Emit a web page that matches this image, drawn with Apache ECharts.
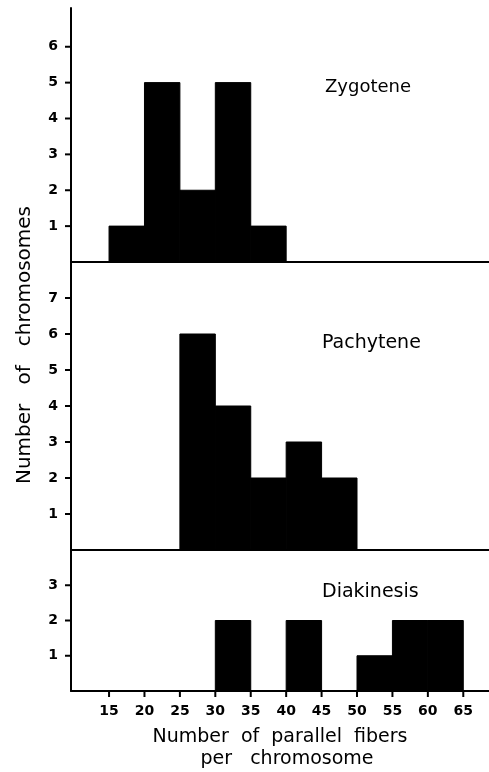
<!DOCTYPE html>
<html>
<head>
<meta charset="utf-8">
<script src="https://cdn.jsdelivr.net/npm/echarts@6/dist/echarts.min.js"></script>
<style>
html,body{margin:0;padding:0;background:#fff;}
#chart{width:489px;height:772px;}
</style>
</head>
<body>
<div id="chart"></div>
<script>
// Bin starts (number of parallel fibers per chromosome), bin width 5
const binStarts = [15, 20, 25, 30, 35, 40, 45, 50, 55, 60];
const binWidth = 5;
const zygotene  = [1, 5, 2, 5, 1, 0, 0, 0, 0, 0];
const pachytene = [0, 0, 6, 4, 2, 3, 2, 0, 0, 0];
const diakinesis = [0, 0, 0, 2, 0, 2, 0, 1, 2, 2];
const xTicks = [15, 20, 25, 30, 35, 40, 45, 50, 55, 60, 65];
const yTicksZyg = [1, 2, 3, 4, 5, 6];
const yTicksPach = [1, 2, 3, 4, 5, 6, 7];
const yTicksDiak = [1, 2, 3];
const panelNames = ['Zygotene', 'Pachytene', 'Diakinesis'];

const chart = echarts.init(document.getElementById('chart'), null, {renderer: 'canvas'});

const XMIN = 9.63, XMAX = 68.63;
const TICK_LEN = 6;

function toData(arr) {
  return binStarts.map((s, i) => [s, arr[i]]);
}

function renderBar(params, api) {
  const x0 = api.value(0);
  const y = api.value(1);
  if (!y) return null;
  const p0 = api.coord([x0, y]);
  const p1 = api.coord([x0 + binWidth, 0]);
  return {
    type: 'rect',
    shape: {x: p0[0], y: p0[1], width: p1[0] - p0[0], height: p1[1] - p0[1]},
    style: {fill: '#000', stroke: '#000', lineWidth: 1}
  };
}

// axis tick marks placed through the axis scale
function renderYTick(params, api) {
  const p = api.coord([XMIN, api.value(1)]);
  return {type: 'line', silent: true,
    shape: {x1: p[0] - TICK_LEN, y1: p[1], x2: p[0], y2: p[1]},
    style: {stroke: '#000', lineWidth: 2}};
}
function renderXTick(params, api) {
  const p = api.coord([api.value(0), 0]);
  return {type: 'line', silent: true,
    shape: {x1: p[0], y1: p[1], x2: p[0], y2: p[1] + TICK_LEN},
    style: {stroke: '#000', lineWidth: 2}};
}

const lineStyle = {color: '#000', width: 2};
const labelFont = {color: '#000', fontFamily: 'DejaVu Sans', fontWeight: 'bold', fontSize: 14};

function xAxis(idx, withLabels) {
  return {
    type: 'value', gridIndex: idx, min: XMIN, max: XMAX,
    axisLine: {show: true, lineStyle: lineStyle, onZero: false},
    axisTick: {show: false},
    axisLabel: withLabels ? Object.assign({show: true, customValues: xTicks, margin: 13}, labelFont) : {show: false},
    splitLine: {show: false}
  };
}
function yAxis(idx, max, ticks) {
  return {
    type: 'value', gridIndex: idx, min: 0, max: max, interval: 1,
    axisLine: {show: true, lineStyle: lineStyle},
    axisTick: {show: false},
    axisLabel: Object.assign({show: true, customValues: ticks, margin: 13}, labelFont),
    splitLine: {show: false}
  };
}

const option = {
  backgroundColor: '#fff',
  animation: false,
  grid: [
    {left: 71, right: 0, top: 8, height: 254},
    {left: 71, right: 0, top: 262, height: 288},
    {left: 71, right: 0, top: 550, height: 141}
  ],
  xAxis: [xAxis(0, false), xAxis(1, false), xAxis(2, true)],
  yAxis: [yAxis(0, 7.08, yTicksZyg), yAxis(1, 8, yTicksPach), yAxis(2, 4, yTicksDiak)],
  series: [
    {type: 'custom', name: panelNames[0], xAxisIndex: 0, yAxisIndex: 0, renderItem: renderBar, data: toData(zygotene), clip: true},
    {type: 'custom', name: panelNames[1], xAxisIndex: 1, yAxisIndex: 1, renderItem: renderBar, data: toData(pachytene), clip: true},
    {type: 'custom', name: panelNames[2], xAxisIndex: 2, yAxisIndex: 2, renderItem: renderBar, data: toData(diakinesis), clip: true},
    {type: 'custom', xAxisIndex: 0, yAxisIndex: 0, renderItem: renderYTick, data: yTicksZyg.map(v => [XMIN, v]), clip: false, silent: true},
    {type: 'custom', xAxisIndex: 1, yAxisIndex: 1, renderItem: renderYTick, data: yTicksPach.map(v => [XMIN, v]), clip: false, silent: true},
    {type: 'custom', xAxisIndex: 2, yAxisIndex: 2, renderItem: renderYTick, data: yTicksDiak.map(v => [XMIN, v]), clip: false, silent: true},
    {type: 'custom', xAxisIndex: 2, yAxisIndex: 2, renderItem: renderXTick, data: xTicks.map(v => [v, 0]), clip: false, silent: true}
  ],
  graphic: [
    {type: 'text', x: 325, y: 87, style: {text: panelNames[0], font: '18px "DejaVu Sans"', fill: '#000', verticalAlign: 'middle'}},
    {type: 'text', x: 322, y: 343, style: {text: panelNames[1], font: '19px "DejaVu Sans"', fill: '#000', verticalAlign: 'middle'}},
    {type: 'text', x: 322, y: 592, style: {text: panelNames[2], font: '19px "DejaVu Sans"', fill: '#000', verticalAlign: 'middle'}},
    {type: 'text', x: 280, y: 737, style: {text: 'Number  of  parallel  fibers', font: '19px "DejaVu Sans"', fill: '#000', align: 'center', verticalAlign: 'middle'}},
    {type: 'text', x: 287, y: 759, style: {text: 'per   chromosome', font: '19px "DejaVu Sans"', fill: '#000', align: 'center', verticalAlign: 'middle'}},
    {type: 'text', x: 25, y: 345, rotation: Math.PI / 2, style: {text: 'Number   of   chromosomes', font: '20px "DejaVu Sans"', fill: '#000', align: 'center', verticalAlign: 'middle'}}
  ]
};
chart.setOption(option);
</script>
</body>
</html>
